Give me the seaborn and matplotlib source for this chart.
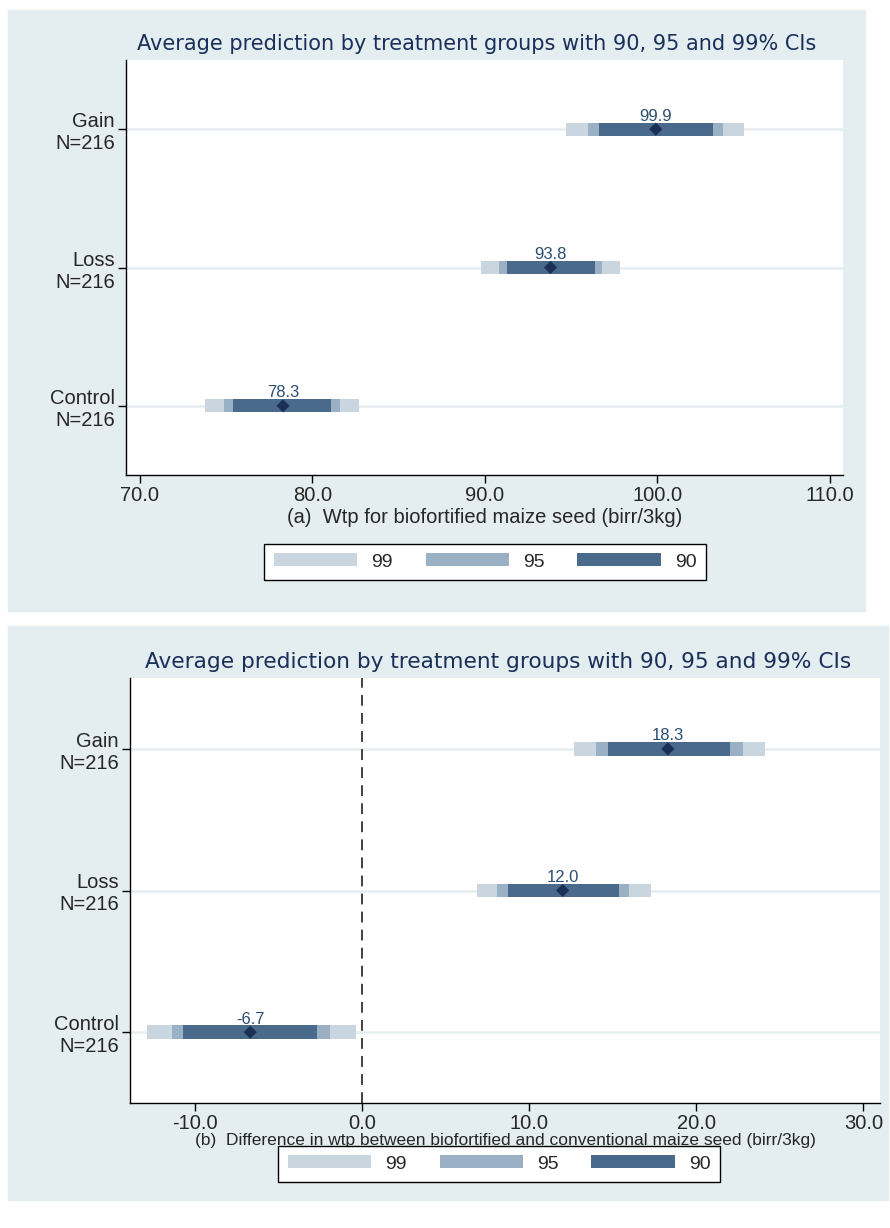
import matplotlib
matplotlib.use("Agg")
import matplotlib.pyplot as plt
import seaborn as sns
import pandas as pd
from matplotlib.patches import Rectangle

# group labels, top to bottom
groups = ["Gain\nN=216", "Loss\nN=216", "Control\nN=216"]
levels = ["99", "95", "90"]

# panel (a): wtp for biofortified maize seed
wtp_mean = [99.9, 93.8, 78.3]
wtp_lo99 = [94.7, 89.8, 73.8]
wtp_hi99 = [105.0, 97.8, 82.7]
wtp_lo95 = [96.0, 90.8, 74.9]
wtp_hi95 = [103.8, 96.8, 81.6]
wtp_lo90 = [96.6, 91.3, 75.4]
wtp_hi90 = [103.2, 96.4, 81.1]

# panel (b): difference biofortified - conventional
diff_mean = [18.3, 12.0, -6.7]
diff_lo99 = [12.7, 6.9, -12.9]
diff_hi99 = [24.1, 17.3, -0.4]
diff_lo95 = [14.0, 8.1, -11.4]
diff_hi95 = [22.8, 16.0, -1.9]
diff_lo90 = [14.7, 8.7, -10.7]
diff_hi90 = [22.0, 15.4, -2.7]

BG = "#e4edef"
NAVY = "#1a2f5a"
COLORS = {"99": "#c9d6e0", "95": "#9ab1c5", "90": "#4a6a8c"}
TITLE = "Average prediction by treatment groups with 90, 95 and 99% CIs"

sns.set_theme(style="white")
plt.rcParams["font.family"] = ["Liberation Sans", "DejaVu Sans"]

W, H = 890, 1228
fig = plt.figure(figsize=(W / 100, H / 100), dpi=100)


def px_axes(left, top, right, bottom):
    ax = fig.add_axes([left / W, 1 - bottom / H, (right - left) / W, (bottom - top) / H])
    ax.set_zorder(2)
    return ax


def draw_panel(ax, mean, lo, hi, xlim, xticks, xlabel, xlabel_size, zero_line=False):
    ypos = [3, 2, 1]
    for lev in levels:
        l, h = lo[lev], hi[lev]
        ax.barh(ypos, [b - a for a, b in zip(l, h)], left=l, height=0.095,
                color=COLORS[lev], linewidth=0, label=lev, zorder=3)
    df = pd.DataFrame({"x": mean, "y": ypos})
    sns.scatterplot(data=df, x="x", y="y", marker="D", s=45, color="#1c2f55",
                    edgecolor="none", ax=ax, zorder=5, legend=False)
    if ax.get_legend() is not None:
        ax.get_legend().remove()
    for m, y in zip(mean, ypos):
        ax.text(m, y + 0.04, f"{m:.1f}", ha="center", va="bottom",
                fontsize=12, color="#2b4d75", zorder=6)
    for y in ypos:
        ax.axhline(y, color="#e6eef0", lw=1.8, zorder=1)
    if zero_line:
        ax.axvline(0, color="#333333", lw=1.3, ls=(0, (6, 4)), zorder=2)
    ax.set_xlim(*xlim)
    ax.set_ylim(0.5, 3.5)
    ax.set_xticks(xticks)
    ax.set_xticklabels([f"{t:.1f}" for t in xticks], fontsize=14.5)
    ax.set_yticks(ypos)
    ax.set_yticklabels(groups, fontsize=14.5, linespacing=1.2)
    ax.set_xlabel(xlabel, fontsize=xlabel_size, labelpad=1)
    ax.set_ylabel("")
    ax.set_facecolor("white")
    for s in ["top", "right"]:
        ax.spines[s].set_visible(False)
    for s in ["left", "bottom"]:
        ax.spines[s].set_color("black")
        ax.spines[s].set_linewidth(1.0)
    ax.tick_params(axis="both", direction="out", length=6, width=1, color="black",
                   left=True, bottom=True, pad=2)
    return ax


# panel backgrounds
fig.patches.append(Rectangle((8 / W, 1 - 611 / H), 857 / W, 601 / H,
                             transform=fig.transFigure, color=BG, zorder=-5))
fig.patches.append(Rectangle((8 / W, 1 - 1200 / H), 880 / W, 574 / H,
                             transform=fig.transFigure, color=BG, zorder=-5))

ax1 = px_axes(126, 60, 843, 475)
draw_panel(ax1, wtp_mean,
           {"99": wtp_lo99, "95": wtp_lo95, "90": wtp_lo90},
           {"99": wtp_hi99, "95": wtp_hi95, "90": wtp_hi90},
           (69.2, 110.75), [70, 80, 90, 100, 110],
           "(a)  Wtp for biofortified maize seed (birr/3kg)", 14.5)
ax1.xaxis.labelpad = 2

ax2 = px_axes(130, 678, 880, 1103)
draw_panel(ax2, diff_mean,
           {"99": diff_lo99, "95": diff_lo95, "90": diff_lo90},
           {"99": diff_hi99, "95": diff_hi95, "90": diff_hi90},
           (-13.9, 31.0), [-10, 0, 10, 20, 30],
           "(b)  Difference in wtp between biofortified and conventional maize seed (birr/3kg)", 12.5,
           zero_line=True)
ax2.xaxis.labelpad = 0

fig.text(477 / W, 1 - 44 / H, TITLE, ha="center", va="center", fontsize=15,
         color=NAVY, family="DejaVu Sans")
fig.text(498 / W, 1 - 662 / H, TITLE, ha="center", va="center", fontsize=15.6,
         color=NAVY, family="DejaVu Sans")


def add_legend(ax, cx_px, cy_px):
    handles, labels = ax.get_legend_handles_labels()
    handles = [h for h, l in zip(handles, labels) if l in levels]
    leg = fig.legend(handles, levels, loc="center", ncol=3,
                     bbox_to_anchor=(cx_px / W, 1 - cy_px / H),
                     frameon=True, fancybox=False, fontsize=14,
                     handlelength=4.3, handleheight=0.6, columnspacing=1.7,
                     handletextpad=0.7, borderpad=0.5, framealpha=1,
                     facecolor="white")
    leg.get_frame().set_edgecolor("black")
    leg.get_frame().set_linewidth(1.0)
    leg.set_zorder(3)
    return leg


add_legend(ax1, 485, 562)
add_legend(ax2, 499, 1164)

fig.savefig("out.png", dpi=100, facecolor="white")
